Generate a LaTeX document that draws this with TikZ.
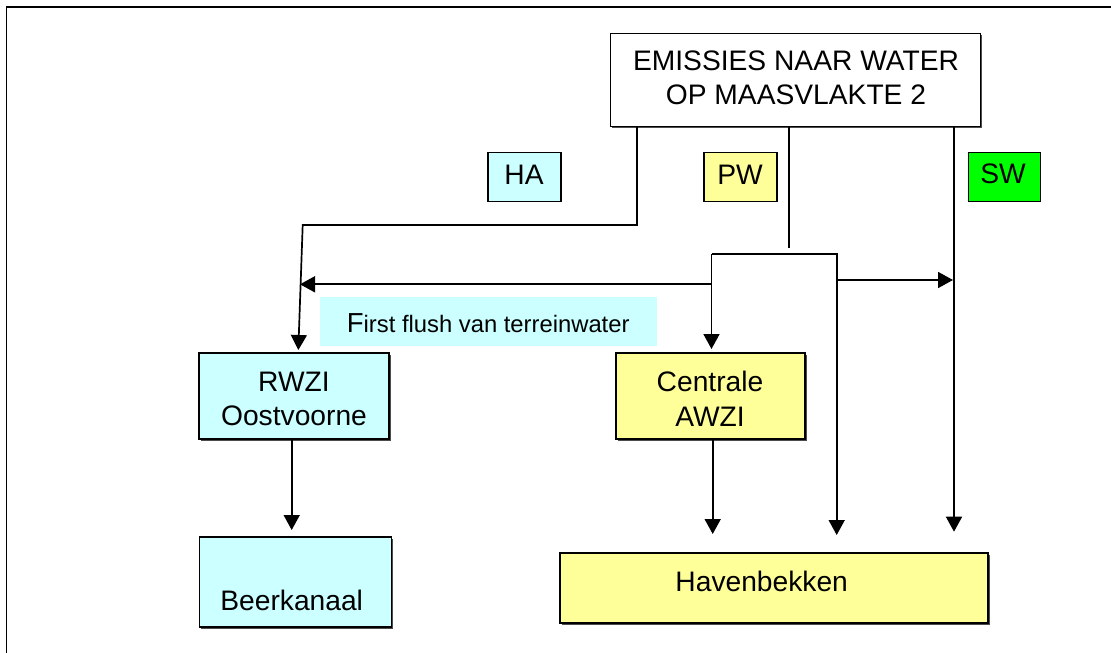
\documentclass[tikz,border=0pt]{standalone}
\usepackage{fontspec}
\setmainfont{Liberation Sans}
\usetikzlibrary{arrows.meta,shadows}
\definecolor{paleCyan}{HTML}{CCFFFF}
\definecolor{paleYellow}{HTML}{FFFF99}
\definecolor{brightGreen}{HTML}{00FF00}
\begin{document}
\begin{tikzpicture}[x=1pt,y=-1pt,
  box/.style={draw=black, line width=1.5pt, rectangle, inner sep=0pt},
  shadebox/.style={box, drop shadow={shadow xshift=1.6pt, shadow yshift=-1.6pt, fill=black!70, opacity=1}},
  lbl/.style={inner sep=0pt, align=center, font=\fontsize{28.2}{34}\selectfont},
  flow/.style={line width=1.7pt},
  arr/.style={flow, -{Triangle[length=15pt,width=16pt]}},
]
\useasboundingbox (0,0) rectangle (1111,653);
% outer frame
\draw[line width=1.8pt] (6.5,653) -- (6.5,7) -- (1111,7);

% boxes
\node[shadebox, fill=white, minimum width=370pt, minimum height=93pt] (em) at (795.4,80) {};
\node[box, line width=1.2pt, fill=paleCyan, minimum width=73pt, minimum height=49pt] (ha) at (524.4,176.7) {};
\node[box, line width=1.2pt, fill=paleYellow, minimum width=73pt, minimum height=49pt] (pw) at (740.4,176.7) {};
\node[box, line width=1.2pt, fill=brightGreen, minimum width=72pt, minimum height=49pt] (sw) at (1004.5,177.2) {};
\node[fill=paleCyan, inner sep=0pt, minimum width=337pt, minimum height=49pt] (ff) at (488.4,321.7) {};
\node[shadebox, fill=paleCyan, minimum width=190pt, minimum height=86pt] (rwzi) at (294,396) {};
\node[shadebox, fill=paleYellow, minimum width=189pt, minimum height=86pt] (awzi) at (710.5,396) {};
\node[shadebox, fill=paleCyan, minimum width=192pt, minimum height=90pt] (beer) at (295.4,581.9) {};
\node[shadebox, fill=paleYellow, minimum width=428pt, minimum height=70pt] (hb) at (774.2,588) {};

% texts
\node[lbl, anchor=base] (emT1) at (796,70) {EMISSIES NAAR WATER};
\node[lbl, anchor=base] (emT2) at (796,104) {OP MAASVLAKTE 2};
\node[lbl, anchor=base] (haT) at (524,184) {HA};
\node[lbl, anchor=base] (pwT) at (740,184) {PW};
\node[lbl, anchor=base] (swT) at (1003,183.5) {SW};
\node[inner sep=0pt, anchor=base west] (ffT) at (346.7,332.7)
  {\fontsize{27.5}{30}\selectfont F\fontsize{23.8}{30}\selectfont irst flush van terreinwater};
\node[lbl, anchor=base] (rwT1) at (294,391.7) {RWZI};
\node[lbl, anchor=base] (rwT2) at (294,425) {Oostvoorne};
\node[lbl, anchor=base] (awT1) at (710,391.7) {Centrale};
\node[lbl, anchor=base] (awT2) at (710,426.7) {AWZI};
\node[lbl, anchor=base] (beerT) at (291.7,610.7) {Beerkanaal};
\node[lbl, anchor=base] (hbT) at (761.7,591.7) {Havenbekken};

% connector points
\coordinate (haOut) at (637,126.5);
\coordinate (haBend) at (637,225);
\coordinate (haCorner) at (302.7,225);
\coordinate (rwziIn) at (298.3,350);
\coordinate (pwOut) at (789.3,126.5);
\coordinate (pwEnd) at (789.3,248);
\coordinate (splitL) at (711.5,254);
\coordinate (splitR) at (836.7,254);
\coordinate (awziIn) at (711.5,349);
\coordinate (hbInMid) at (836.7,535);
\coordinate (ffStart) at (711.5,284.3);
\coordinate (ffEnd) at (300,284.3);
\coordinate (swJoinFrom) at (836.7,280);
\coordinate (swJoinTo) at (953,280);
\coordinate (swOut) at (954,126.5);
\coordinate (hbInRight) at (954,531.7);
\coordinate (rwziOut) at (291.7,439);
\coordinate (beerIn) at (291.7,530);
\coordinate (awziOut) at (712.7,439);
\coordinate (hbInLeft) at (712.7,534);

% connectors
\draw[arr] (haOut) -- (haBend) -- (haCorner) -- (rwziIn);
\draw[flow] (pwOut) -- (pwEnd);
\draw[arr] (splitL) -- (splitR) -- (hbInMid);
\draw[arr] (splitL) -- (awziIn);
\draw[arr] (ffStart) -- (ffEnd);
\draw[arr] (swJoinFrom) -- (swJoinTo);
\draw[arr] (swOut) -- (hbInRight);
\draw[arr] (rwziOut) -- (beerIn);
\draw[arr] (awziOut) -- (hbInLeft);
\end{tikzpicture}
\end{document}
